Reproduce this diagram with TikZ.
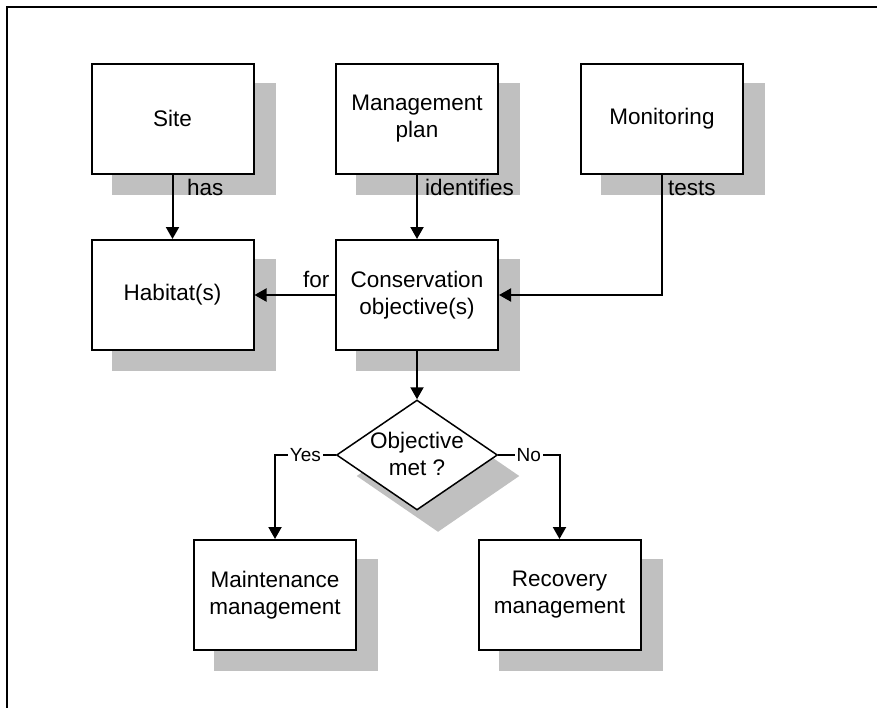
\documentclass[tikz,border=0pt]{standalone}
\usepackage{fontspec}
\setmainfont{Liberation Sans}
\usetikzlibrary{shapes.geometric,arrows.meta,backgrounds}
\definecolor{shadowgray}{RGB}{192,192,192}
\begin{document}
\begin{tikzpicture}[x=1pt,y=-1pt,
  box/.style={draw, line width=2pt, fill=white, minimum width=162pt, minimum height=110pt, align=center, inner sep=0pt, font=\fontsize{22.5}{27}\selectfont},
  decision/.style={diamond, draw, line width=1.5pt, fill=white, minimum width=161pt, minimum height=110pt, inner sep=0pt},
  link/.style={line width=2pt, -{Triangle[width=13pt,length=12pt]}},
  lab/.style={font=\fontsize{22.5}{27}\selectfont, inner sep=0pt, anchor=base west},
  yn/.style={font=\fontsize{19}{22}\selectfont, fill=white, inner sep=2pt},
  frame/.style={line width=2pt}
]
\useasboundingbox (0,0) rectangle (877,707);
\draw[frame] (7,720) -- (7,7) -- (890,7);

\node[box] (site) at (172.5,118.5) {Site};
\node[box] (mgmt) at (417,118.5) {Management\\plan};
\node[box] (mon) at (662,118.5) {Monitoring};
\node[box] (hab) at (172.5,295) {Habitat(s)};
\node[box] (cons) at (417,295) {Conservation\\objective(s)};
\node[decision] (dec) at (417,455) {};
\node[font=\fontsize{22.5}{27}\selectfont, align=center, inner sep=0pt] (dectext) at (417,454) {Objective\\met ?};
\node[box] (maint) at (275,595) {Maintenance\\management};
\node[box] (rec) at (559.5,595) {Recovery\\management};

\begin{scope}[on background layer]
  \foreach \n in {site,mgmt,mon,hab,cons,maint,rec}
    \fill[shadowgray] ([shift={(21,20)}]\n.south west) rectangle ([shift={(21,20)}]\n.north east);
  \fill[shadowgray] ([shift={(21,21)}]dec.north) -- ([shift={(21,21)}]dec.east) -- ([shift={(21,21)}]dec.south) -- ([shift={(21,21)}]dec.west) -- cycle;
\end{scope}

\draw[link] (site.south) -- (hab.north);
\draw[link] (mgmt.south) -- (cons.north);
\draw[link] (mon.south) |- (cons.east);
\draw[link] (cons.west) -- (hab.east);
\draw[link] (cons.south) -- (dec.north);
\draw[link] (dec.west) -| node[yn, pos=0.25] (yes) {Yes} (maint.north);
\draw[link] (dec.east) -| node[yn, pos=0.25] (no) {No} (rec.north);

\node[lab] (lhas) at (187,195) {has};
\node[lab] (lid) at (425,195) {identifies};
\node[lab] (ltests) at (668,195) {tests};
\node[lab] (lfor) at (303,287) {for};
\end{tikzpicture}
\end{document}
